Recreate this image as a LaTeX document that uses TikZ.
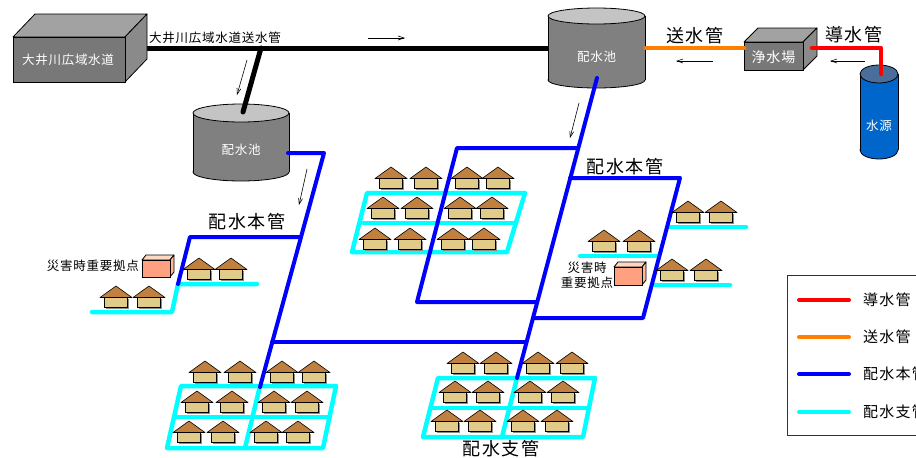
\documentclass[tikz,border=0pt]{standalone}
\usepackage{fontspec}
\setmainfont{Noto Sans CJK JP}
\newfontfamily\jpwide[LetterSpace=8]{Noto Sans CJK JP}
\newfontfamily\jpsemi[LetterSpace=6]{Noto Sans CJK JP}
\usetikzlibrary{arrows.meta}

\definecolor{roofc}{HTML}{C08040}
\definecolor{bodyc}{HTML}{E0CC88}
\definecolor{shadowc}{HTML}{8C8C8C}
\definecolor{tankside}{HTML}{808080}
\definecolor{tanktop}{HTML}{C4C4C4}
\definecolor{boxfront}{HTML}{787878}
\definecolor{boxtop}{HTML}{A2A2A2}
\definecolor{boxside}{HTML}{8A8A8A}
\definecolor{srcside}{HTML}{0066CC}
\definecolor{srctop}{HTML}{4A6E9A}
\definecolor{siteface}{HTML}{FFA080}
\definecolor{sitetop}{HTML}{FFD8C0}
\definecolor{siteside}{HTML}{FFB898}
\definecolor{pipered}{HTML}{FF0000}
\definecolor{pipeorange}{HTML}{FF8000}
\definecolor{pipeblue}{HTML}{0000FF}
\definecolor{pipecyan}{HTML}{00FFFF}

% cylinder: centre x, radius x, top y, bottom y, radius y, side colour, top colour
\newcommand\drawtank[7]{%
  \filldraw[fill=#6,draw=black,line width=0.8pt] (#1,#4) ellipse[x radius=#2,y radius=#5];
  \fill[#6] (#1-#2,#3) rectangle (#1+#2,#4);
  \draw[line width=0.8pt] (#1-#2,#3) -- (#1-#2,#4) (#1+#2,#3) -- (#1+#2,#4);
  \filldraw[fill=#7,draw=black,line width=0.8pt] (#1,#3) ellipse[x radius=#2,y radius=#5];
}
% block: front x1,y1,x2,y2, depth dx,dy, colours top/front/side
\newcommand\drawblock[9]{%
  \filldraw[fill=#7,draw=black,line width=0.8pt,line join=round] (#1,#2) -- (#1+#5,#2-#6) -- (#3+#5,#2-#6) -- (#3,#2) -- cycle;
  \filldraw[fill=#9,draw=black,line width=0.8pt,line join=round] (#3,#2) -- (#3+#5,#2-#6) -- (#3+#5,#4-#6) -- (#3,#4) -- cycle;
  \filldraw[fill=#8,draw=black,line width=0.8pt] (#1,#2) rectangle (#3,#4);
}

\begin{document}
\begin{tikzpicture}[x=1pt,y=-1pt,
  pipe/.style={line width=4.5pt,line cap=round,line join=round},
  mainpipe/.style={pipe,draw=pipeblue,line width=4pt},
  branchpipe/.style={pipe,draw=pipecyan},
  flow/.style={line width=0.6pt,-{Straight Barb[length=6pt,width=4pt]}},
  bigtxt/.style={font=\jpwide\fontsize{18}{20}\selectfont,inner sep=0pt},
  midtxt/.style={font=\jpsemi\fontsize{12.5}{14}\selectfont,inner sep=0pt},
  whitetxt/.style={font=\jpsemi\fontsize{12.5}{14}\selectfont,text=white,inner sep=0pt},
  legtxt/.style={font=\jpwide\fontsize{15}{17}\selectfont,inner sep=0pt,anchor=west},
  house/.pic={
    \fill[shadowc] (-10,1.5) rectangle (13,-8);
    \draw[fill=bodyc,line width=0.6pt] (-11.5,0) rectangle (11.5,-9.5);
    \draw[fill=roofc,line width=0.6pt,line join=round] (-16,-9.5) -- (0,-21) -- (16,-9.5) -- cycle;
  }]
\useasboundingbox (0,0) rectangle (916,458);
\clip (0,0) rectangle (916,458);

% ---------- supply side ----------
\coordinate (bulkout) at (135,48);
\coordinate (tankRin) at (550,48);
\coordinate (tee) at (261,48);
\coordinate (tankLin) at (243,112);
\draw[pipe,line width=5pt,draw=black] (bulkout) -- (tankRin);

\drawblock{13}{37}{125}{82}{22}{23}{boxtop}{boxfront}{boxside}
\node[whitetxt] (bulk) at (68,60) {大井川広域水道};
\node[midtxt,anchor=west] (bulklbl) at (149,38) {大井川広域水道送水管};

% reservoirs
\drawtank{241}{48}{113}{172}{9}{tankside}{tanktop}
\node[whitetxt] (resL) at (241,150) {配水池};
\draw[pipe,line width=5pt,draw=black] (tee) -- (tankLin);

\drawtank{596.5}{48.5}{16}{80}{8}{tankside}{tanktop}
\node[whitetxt] (resR) at (596.5,57) {配水池};

% treatment plant and source
\drawblock{744}{42}{803}{70}{14}{14}{boxtop}{boxfront}{boxside}
\node[whitetxt,font=\jpsemi\fontsize{14}{15}\selectfont] (plant) at (773.5,57) {浄水場};
\drawtank{879}{19}{74}{150}{9}{srcside}{srctop}
\node[whitetxt] (source) at (879,126) {水源};

\coordinate (resRout) at (646,48);
\coordinate (plantin) at (744,48);
\coordinate (plantout) at (812,48);
\coordinate (srcbend) at (881,48);
\coordinate (srctop) at (881,74);
\draw[pipe,draw=pipeorange] (resRout) -- (plantin);
\draw[pipe,draw=pipered] (plantout) -- (srcbend) -- (srctop);
\node[bigtxt] (sendlbl) at (695,36) {送水管};
\node[bigtxt] (leadlbl) at (854,35) {導水管};

% flow arrows
\coordinate (f1a) at (368,38); \coordinate (f1b) at (405,38);
\coordinate (f2a) at (247,60); \coordinate (f2b) at (237,95);
\coordinate (f3a) at (713,61); \coordinate (f3b) at (676,61);
\coordinate (f4a) at (865,61); \coordinate (f4b) at (830,61);
\coordinate (f5a) at (307,169); \coordinate (f5b) at (299,205);
\coordinate (f6a) at (579,103); \coordinate (f6b) at (570,138);
\draw[flow] (f1a) -- (f1b);
\draw[flow] (f2a) -- (f2b);
\draw[flow] (f3a) -- (f3b);
\draw[flow] (f4a) -- (f4b);
\draw[flow] (f5a) -- (f5b);
\draw[flow] (f6a) -- (f6b);

% ---------- distribution branches ----------
\draw[branchpipe] (92,312) -- (172,312) -- (178,284) -- (257,284);
\draw[branchpipe] (367,193) -- (525,193) -- (507,252) -- (352,252) -- cycle;
\draw[branchpipe] (363,223) -- (516,223);
\draw[branchpipe] (181,386) -- (336,386) -- (323,448) -- (167,448) -- cycle;
\draw[branchpipe] (174,417) -- (330,417);
\draw[branchpipe] (260,386) -- (245,448);
\draw[branchpipe] (438,378) -- (595,378) -- (583,437) -- (423,437) -- cycle;
\draw[branchpipe] (431,408) -- (589,408);
\draw[branchpipe] (517,378) -- (502,437);
\draw[branchpipe] (580,256) -- (658,256);
\draw[branchpipe] (668,227) -- (746,227);
\draw[branchpipe] (655,285) -- (730,285);

% ---------- distribution mains ----------
\coordinate (resLout) at (288,153);
\coordinate (mL1) at (324,153);
\coordinate (mL2) at (260,387);
\draw[mainpipe] (resLout) -- (mL1) -- (mL2);
\draw[mainpipe] (300,237) -- (190,237) -- (178,284);
\draw[mainpipe] (272,342) -- (526,342);
\coordinate (resRout2) at (597,78);
\coordinate (mR2) at (517,378);
\draw[mainpipe] (resRout2) -- (mR2);
\draw[mainpipe] (577,148) -- (457,148) -- (417,302) -- (537,302);
\draw[mainpipe] (570,178) -- (680,178) -- (643,318) -- (533,318);

\node[bigtxt] (mainL) at (247,222) {配水本管};
\node[bigtxt] (mainR) at (625,167) {配水本管};
\node[bigtxt] (branch) at (501,449) {配水支管};

% ---------- houses ----------
\foreach \x/\y in {199/279,231/279,116/307,149/307,
  391/188,426/188,467/188,498/188,
  383/218,417/218,460/218,492/218,
  375/249,410/249,453/249,484/249,
  604/251,639/251,688/222,721/222,672/280,706/280,
  205/382,240/382,282/382,314/382,
  197/412,232/412,274/412,307/412,
  189/442,223/442,266/442,298/442,
  463/373,496/373,538/373,572/373,
  455/402,488/402,530/402,563/402,
  447/431,480/431,523/431,557/431}
  \pic at (\x,\y) {house};

% ---------- emergency sites ----------
\drawblock{142}{260}{170}{277}{4}{5}{sitetop}{siteface}{siteside}
\node[midtxt,anchor=east] (siteL) at (139,266) {災害時重要拠点};
\drawblock{614}{267}{642}{285}{4}{5}{sitetop}{siteface}{siteside}
\node[midtxt,align=center,font=\jpsemi\fontsize{12.5}{15}\selectfont] (siteR) at (587,275) {災害時\\重要拠点};

% ---------- legend ----------
\draw[line width=0.9pt,draw=black!80] (787,275) rectangle (960,435);
\foreach \c/\y/\t/\n in {pipered/300/導水管/a,pipeorange/337/送水管/b,pipeblue/374/配水本管/c,pipecyan/412/配水支管/d}{
  \coordinate (lg\n1) at (799,\y);
  \coordinate (lg\n2) at (849,\y);
  \draw[pipe,draw=\c,line width=4pt] (lg\n1) -- (lg\n2);
  \node[legtxt] (lgt\n) at (863,\y) {\t};
}
\end{tikzpicture}
\end{document}
